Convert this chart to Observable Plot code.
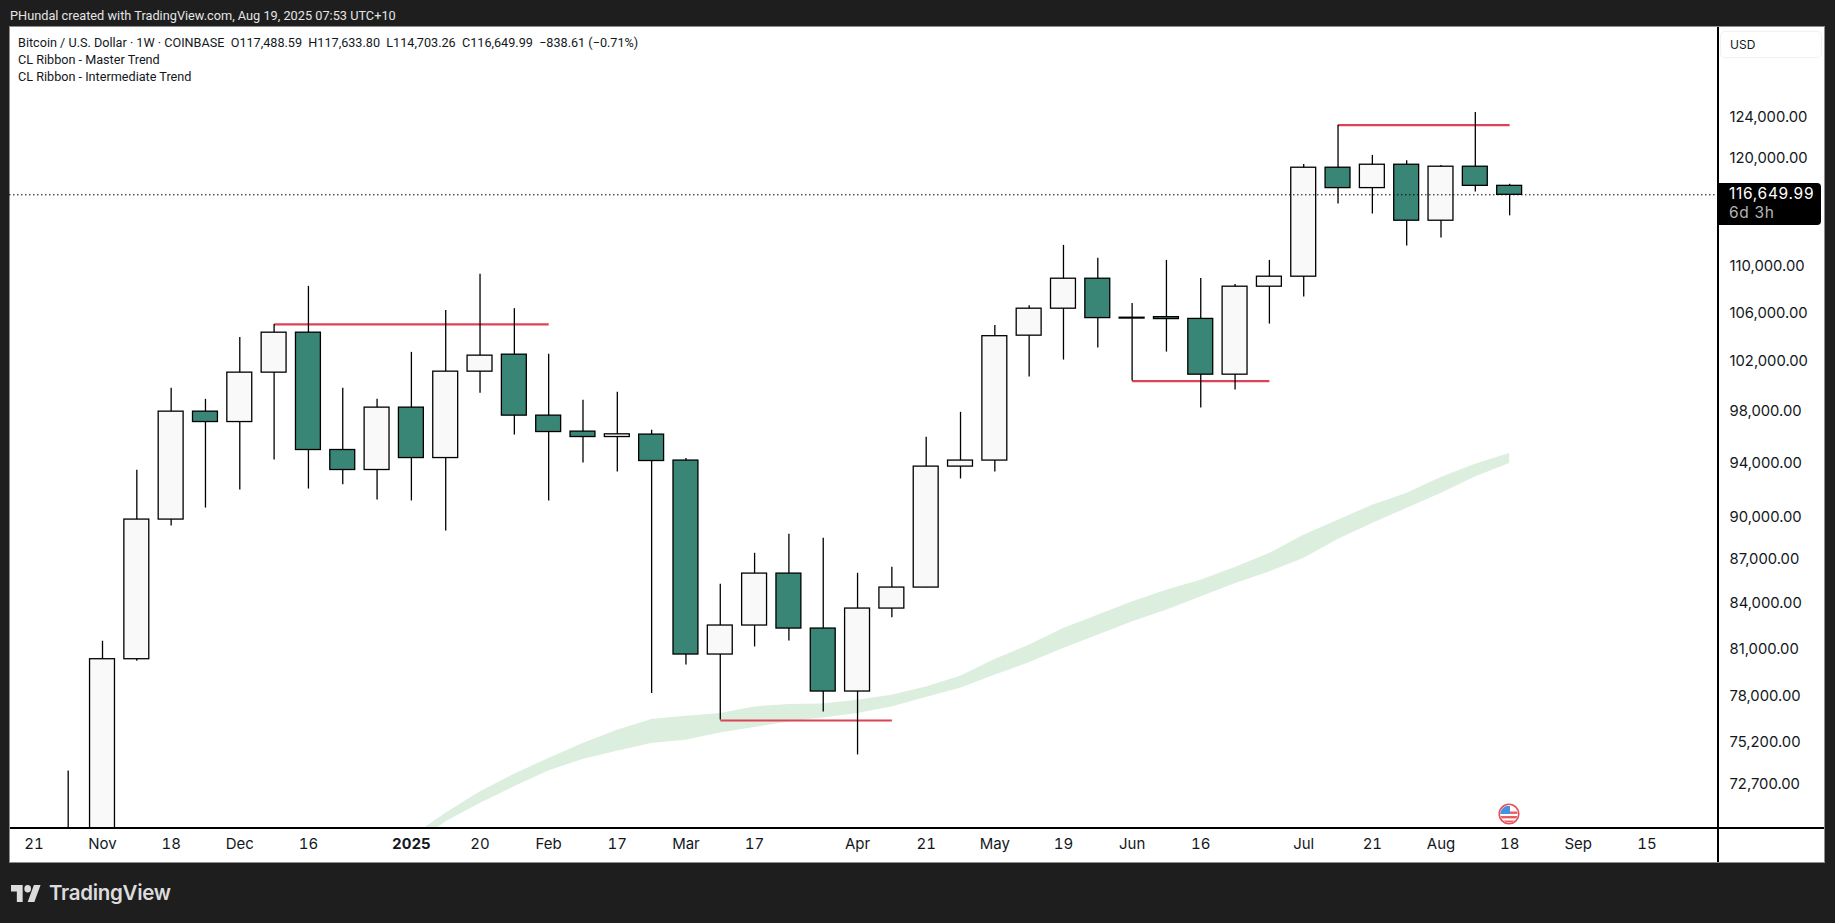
<!DOCTYPE html>
<html>
<head>
<meta charset="utf-8">
<script src="https://cdn.jsdelivr.net/npm/d3@7"></script>
<script src="https://cdn.jsdelivr.net/npm/@observablehq/plot@0.6"></script>
<style>
html,body{margin:0;padding:0;background:#1e1e1e;width:1835px;height:923px;overflow:hidden;font-family:Inter,Roboto,sans-serif}
.abs{position:absolute;white-space:pre}
#panel{left:10px;top:27px;width:1814px;height:835px;background:#fff;box-shadow:0 0 0 1px #8d8d8d}
#chart{left:0;top:0}
#chart svg{display:block;background:transparent}
</style>
</head>
<body>
<div class="abs" id="panel"></div>
<div class="abs" style="left:1717px;top:27px;width:1.5px;height:835px;background:#000"></div>
<div class="abs" style="left:10px;top:827px;width:1814px;height:1.5px;background:#000"></div>
<div class="abs" id="chart"></div>
<div class="abs" style="left:10px;top:7px;font:12.75px/18px Roboto;color:#e4e4e4">PHundal created with TradingView.com, Aug 19, 2025 07:53 UTC+10</div>
<div class="abs" style="left:18px;top:34px;font:12.65px/17px Roboto;color:#131722">Bitcoin / U.S. Dollar · 1W · COINBASE  O117,488.59  H117,633.80  L114,703.26  C116,649.99  −838.61 (−0.71%)
CL Ribbon - Master Trend
CL Ribbon - Intermediate Trend</div>
<div class="abs" style="left:1721px;top:32px;width:100px;height:25px;border-radius:4px;box-shadow:0 0 0 1px #f1f1f1;font:12px/25px Inter;color:#131722;text-indent:9px">USD</div>
<div class="abs" style="left:1718px;top:183px;width:103px;height:42px;background:#000;border-radius:0 4px 4px 0;color:#fff;font:15.5px/19px Inter;letter-spacing:.7px;padding-left:11px;box-sizing:border-box;padding-top:1px">116,649.99<br><span style="color:#b4b4b4">6d 3h</span></div>
<svg class="abs" style="left:1498px;top:803px" width="22" height="22" viewBox="0 0 22 22">
<defs><clipPath id="c"><circle cx="11" cy="11" r="8.6"/></clipPath></defs>
<circle cx="11" cy="11" r="9.8" fill="#fff" stroke="#e4505c" stroke-width="1.6"/>
<g clip-path="url(#c)"><rect x="2" y="8.5" width="18" height="2.4" fill="#ea5c62"/><rect x="2" y="13" width="18" height="2.4" fill="#ea5c62"/><rect x="2" y="17.5" width="18" height="2.4" fill="#ea5c62"/><rect x="2" y="3" width="10" height="8" fill="#4a8fe3"/></g>
</svg>
<svg class="abs" style="left:11px;top:885px" width="30" height="17" viewBox="0 4 36 18" preserveAspectRatio="none"><path fill="#dcdcdc" d="M14 22H7V11H0V4h14v18zM28 22h-8l7.5-18h8L28 22z"/><circle fill="#dcdcdc" cx="20" cy="8" r="4"/></svg>
<div class="abs" style="left:49px;top:879px;font:600 20.5px/28px Inter;letter-spacing:-.3px;color:#dcdcdc">TradingView</div>
<script>
const weeks = ["2024-10-28","2024-11-04","2024-11-11","2024-11-18","2024-11-25","2024-12-02","2024-12-09","2024-12-16","2024-12-23","2024-12-30","2025-01-06","2025-01-13","2025-01-20","2025-01-27","2025-02-03","2025-02-10","2025-02-17","2025-02-24","2025-03-03","2025-03-10","2025-03-17","2025-03-24","2025-03-31","2025-04-07","2025-04-14","2025-04-21","2025-04-28","2025-05-05","2025-05-12","2025-05-19","2025-05-26","2025-06-02","2025-06-09","2025-06-16","2025-06-23","2025-06-30","2025-07-07","2025-07-14","2025-07-21","2025-07-28","2025-08-04","2025-08-11","2025-08-18"];
const opens = [67900,69400,80439,89950,98065,97253,101175,104463,95100,93590,98381,94490,101255,102640,97753,96510,96093,96280,94300,80741,82637,86144,82437,78385,83767,85186,93845,94300,104214,106488,109073,105650,105770,105620,101011,108379,109250,119206,117278,119492,114256,119302,117488.59];
const closes = [69400,80439,89950,98065,97253,101175,104463,95100,93590,98381,94490,101255,102560,97753,96479,96093,96302,94266,80741,82637,86144,82437,78385,83767,85186,93845,94300,104170,106488,109073,105690,105720,105606,101011,108379,109250,119206,117278,119492,114256,119302,117488.59,116649.99];
const highs = [73550,81605,93567,99911,99035,104071,105158,108404,99911,99035,102830,106341,109453,106488,102665,98956,99591,96611,94448,85411,87554,88897,88614,86165,86580,96071,98012,105075,106744,112021,110865,106940,110685,109101,108580,110685,119521,123336,120384,119874,119425,124595,117633.80];
const lows = [66800,67500,80310,89490,90785,92105,94342,92176,92490,91370,91300,89132,99516,96248,91300,94114,93443,78261,80073,76625,81233,81624,77116,74509,83145,85170,92919,93443,100820,102198,103185,100498,102853,98349,99780,105185,107481,115791,114870,111960,112682,116904,114703.26];
// Ribbon, weekly from 2024-12-30 on
const ribbonUpper = [69761,71113,72336,73366,74295,75191,75997,76649,76852,77018,77426,77575,77612,77841,78154,78674,79350,80419,81344,82438,83320,84211,85003,85684,86562,87536,88827,89900,90985,91840,93022,94018,94841];
const ribbonLower = [69206,70620,71668,72627,73562,74236,74729,75191,75390,75825,76160,76502,76747,77018,77426,78010,78593,79416,80206,81130,81997,82874,83654,84549,85448,86260,87189,88522,89662,90743,91840,93066,94071];
const levelStarts = ["2024-12-09","2025-03-10","2025-06-02","2025-07-14"];
const levelEnds = ["2025-02-03","2025-04-14","2025-06-30","2025-08-18"];
const levelPrices = [105158,76590,100498,123336];
const priceTicks = [124000,120000,110000,106000,102000,98000,94000,90000,87000,84000,81000,78000,75200,72700];
const timeTicks = ["2024-10-21","2024-11-04","2024-11-18","2024-12-02","2024-12-16","2025-01-20","2025-02-03","2025-02-17","2025-03-03","2025-03-17","2025-04-07","2025-04-21","2025-05-05","2025-05-19","2025-06-02","2025-06-16","2025-07-07","2025-07-21","2025-08-04","2025-08-18","2025-09-01","2025-09-15"];
const timeTickLabels = ["21","Nov","18","Dec","16","20","Feb","17","Mar","17","Apr","21","May","19","Jun","16","Jul","21","Aug","18","Sep","15"];
const yearTicks = ["2025-01-06"];
const lastClose = 116649.99;

const parse = s => new Date(s + "T00:00:00Z");
const xEnd = new Date("2025-09-29T14:24:00Z");
const candles = weeks.map((w, i) => ({date: parse(w), open: opens[i], high: highs[i], low: lows[i], close: closes[i]}));
const body = {
  x1: d => d3.utcHour.offset(d.date, -61),
  x2: d => d3.utcHour.offset(d.date, 61),
  y1: "open", y2: "close", stroke: "#000", strokeWidth: 1.3, clip: true
};
const ribbon = ribbonUpper.map((u, i) => ({date: parse(weeks[i + 10]), upper: u, lower: ribbonLower[i]}));
const levels = levelPrices.map((p, i) => ({a: parse(levelStarts[i]), b: parse(levelEnds[i]), p}));
const labelByTime = new Map(timeTicks.map((t, i) => [+parse(t), timeTickLabels[i]]));
const priceFormat = d3.format(",.2f");

const chart = Plot.plot({
  width: 1835, height: 923,
  marginLeft: 9, marginRight: 117, marginTop: 27, marginBottom: 96,
  style: {background: "transparent", fontFamily: "Inter"},
  x: {type: "utc", domain: [new Date("2024-10-16T00:43:00Z"), xEnd]},
  y: {type: "log", domain: [70303, 133363], axis: null},
  marks: [
    Plot.areaY(ribbon, {x: "date", y1: "lower", y2: "upper", fill: "#dcefdf", clip: true}),
    Plot.link(levels, {x1: "a", x2: "b", y1: "p", y2: "p", stroke: "#dd4256", strokeWidth: 2.2}),
    Plot.ruleX(candles, {x: "date", y1: "low", y2: "high", stroke: "#000", strokeWidth: 1.3, clip: true}),
    Plot.rect(candles.filter(d => d.close >= d.open), {...body, fill: "#f9f9f9"}),
    Plot.rect(candles.filter(d => d.close < d.open), {...body, fill: "#3a8676"}),
    Plot.ruleY([lastClose], {stroke: "#000", strokeWidth: 1, strokeDasharray: "1.5 2.5"}),
    Plot.text(priceTicks, {x: () => xEnd, y: d => d, text: d => priceFormat(d), textAnchor: "start", dx: 11, dy: -1.5, fontSize: 14.8, fill: "#131722"}),
    Plot.axisX({anchor: "bottom", ticks: timeTicks.map(parse), tickFormat: d => labelByTime.get(+d), tickSize: 0, tickPadding: 11, label: null, fontSize: 15, fill: "#131722"}),
    Plot.axisX({anchor: "bottom", ticks: yearTicks.map(parse), tickFormat: () => "2025", tickSize: 0, tickPadding: 11, label: null, fontSize: 15, fontWeight: 700, fill: "#131722"})
  ]
});
document.getElementById("chart").appendChild(chart);
</script>
</body>
</html>
